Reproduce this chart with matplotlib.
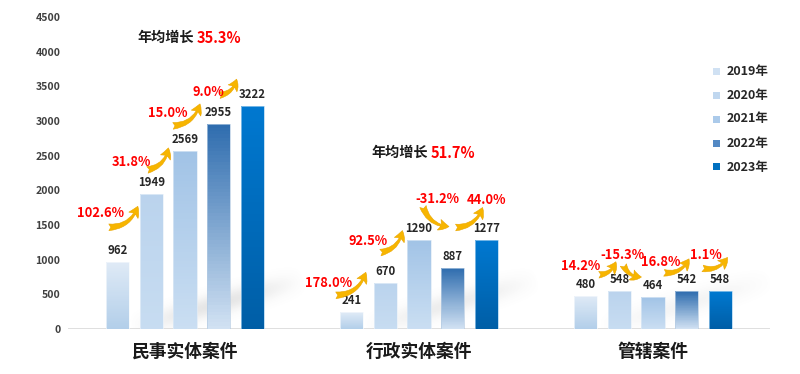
import matplotlib
matplotlib.use("Agg")
import matplotlib.pyplot as plt
import numpy as np
from matplotlib.colors import LinearSegmentedColormap, to_rgb
from matplotlib.patches import FancyArrowPatch, Rectangle

plt.rcParams["font.family"] = ["Noto Sans CJK SC", "DejaVu Sans"]

# Data
categories = ["民事实体案件", "行政实体案件", "管辖案件"]
years = ["2019年", "2020年", "2021年", "2022年", "2023年"]
values = [
    [962, 1949, 2569, 2955, 3222],
    [241, 670, 1290, 887, 1277],
    [480, 548, 464, 542, 548],
]
growth = [
    ["102.6%", "31.8%", "15.0%", "9.0%"],
    ["178.0%", "92.5%", "-31.2%", "44.0%"],
    ["14.2%", "-15.3%", "16.8%", "1.1%"],
]
cagr_labels = ["35.3%", "51.7%"]
yticks = [0, 500, 1000, 1500, 2000, 2500, 3000, 3500, 4000, 4500]

# Styles: (top colour, bottom colour) per year
BAR_COLORS = [
    ("#dfeaf6", "#b2cee9"),
    ("#bad3ed", "#c7dcf1"),
    ("#a1c3e6", "#cadef2"),
    ("#2e6cae", "#d2e2f3"),
    ("#0078d0", "#005ea6"),
]
LEGEND_COLORS = ["#d0e1f3", "#c0d7ef", "#abcaea", "#5389c4", "#0070c0"]
ARROW_COLOR = "#f7b500"
RED = "#ff0000"

BAR_STEP = 0.1435
BAR_W = 0.0985
N_SLICES = 60

# Layout of growth arrows, pixels relative to top-centre of the earlier bar:
# (tail dx, tail dy, head dx, head dy, label dx, label dy)
ARROW_LAYOUT = [
    [(-9, 35, 20, 56, -17, 49), (-4, 24, 17, 46, -20, 32),
     (-12, 25, 15, 47, -17, 38), (1, 29, 18, 45, -10, 32)],
    [(-16, 17, 14, 40, -23, 29), (-5, 30, 17, 52, -17, 42),
     (4, 33, 30, 13, 18, 41), (3, 40, 30, 60, 34, 68)],
    [(13, 21, 30, 34, -5, 30), (4, 26, 22, 14, 3, 36),
     (11, 24, 36, 38, 8, 35), (16, 23, 41, 34, 19, 36)],
]
CAGR_Y = [4200, 2540]
SHADOW_STRENGTH = [0.18, 0.13, 0.08]

fig = plt.figure(figsize=(8, 3.74), dpi=100)
ax = fig.add_axes([0.085, 0.1203, 0.8775, 0.8342])
ax.set_xlim(-0.5, 2.5)
ax.set_ylim(0, 4500)

bb = ax.get_position()
px_x = 3.0 / (bb.width * 800)
px_y = 4500 / (bb.height * 374)

# soft diagonal reflection behind each group
gx, gy = np.meshgrid(np.linspace(-60, 180, 240), np.linspace(0, 80, 80))
lx, ly = 175.0, 50.0  # streak direction in pixels, starting at (-55px, 0) from group centre
L = np.hypot(lx, ly)
sx, sy = gx + 55, gy
t = (sx * lx + sy * ly) / L**2
d = (sx * ly - sy * lx) / L
alpha_field = np.exp(-d**2 / (2 * 7.5**2)) * np.clip(np.sin(np.pi * np.clip(t, 0, 1)), 0, 1)
for g in range(len(categories)):
    rgba = np.zeros(gx.shape + (4,))
    rgba[..., :3] = 0.45
    rgba[..., 3] = alpha_field * SHADOW_STRENGTH[g]
    ax.imshow(rgba, extent=(g - 60 * px_x, g + 180 * px_x, 0, 80 * px_y), origin="lower",
              aspect="auto", interpolation="bilinear", zorder=1)

frac = (np.arange(N_SLICES) + 0.5) / N_SLICES
offsets = (np.arange(len(years)) - 2) * BAR_STEP

for g, vals in enumerate(values):
    for i, v in enumerate(vals):
        xc = g + offsets[i]
        top, bottom = BAR_COLORS[i]
        cmap = LinearSegmentedColormap.from_list("bar%d" % i, [bottom, top])
        # gradient bar built from thin stacked slices
        ax.bar(np.full(N_SLICES, xc), np.full(N_SLICES, v / N_SLICES), BAR_W,
               bottom=np.arange(N_SLICES) * v / N_SLICES, color=cmap(frac),
               linewidth=0, antialiased=False, zorder=3)
        edge = 0.35 * np.array(to_rgb(top)) + 0.65
        ax.add_patch(Rectangle((xc - BAR_W / 2, 0), BAR_W, v, fill=False,
                               edgecolor=edge, lw=0.5, zorder=4))
        ax.text(xc, v + 11.5 * px_y, str(v), ha="center", va="center",
                fontsize=8.2, fontweight="bold", color="#262626", zorder=5)

    # growth arrows
    for i, lab in enumerate(growth[g]):
        tx, ty, hx, hy, lx_, ly_ = ARROW_LAYOUT[g][i]
        xc = g + offsets[i]
        v = vals[i]
        arr = FancyArrowPatch((xc + tx * px_x, v + ty * px_y), (xc + hx * px_x, v + hy * px_y),
                              arrowstyle="fancy,head_length=0.45,head_width=0.5,tail_width=0.3",
                              mutation_scale=16, connectionstyle="arc3,rad=0.35",
                              facecolor=ARROW_COLOR, edgecolor="#eaa600", lw=0.4,
                              shrinkA=0, shrinkB=0, zorder=6)
        ax.add_patch(arr)
        ax.text(xc + lx_ * px_x, v + ly_ * px_y, lab, ha="center", va="center",
                fontsize=9.3, fontweight="bold", color=RED, zorder=7)

    ax.text(g, -23 * px_y, categories[g], ha="center", va="center", fontsize=12.8,
            fontweight="bold", color="#1a1a1a", clip_on=False)

# average annual growth labels
for g, lab in enumerate(cagr_labels):
    ax.text(g + 9 * px_x, CAGR_Y[g], "年均增长", ha="right", va="center",
            fontsize=10.2, fontweight="bold", color="#1a1a1a")
    ax.text(g + 12 * px_x, CAGR_Y[g], lab, ha="left", va="center",
            fontsize=10.5, fontweight="bold", color=RED)

ax.axhline(0, color="#d9d9d9", lw=1.2, zorder=2)
for s in ax.spines.values():
    s.set_visible(False)
ax.set_xticks([])
ax.set_yticks(yticks)
ax.set_yticklabels([str(t) for t in yticks], fontsize=7.6, fontweight="bold", color="#404040")
ax.tick_params(axis="y", length=0, pad=5.5)
ax.set_xlim(-0.5, 2.5)
ax.set_ylim(0, 4500)

# legend
for i, yr in enumerate(years):
    yc = 71 + i * 24
    fig.patches.append(Rectangle((713 / 800, 1 - (yc + 3.5) / 374), 7 / 800, 7 / 374,
                                 transform=fig.transFigure, facecolor=LEGEND_COLORS[i],
                                 edgecolor="none"))
    fig.text(727 / 800, 1 - yc / 374, yr, ha="left", va="center", fontsize=9,
             fontweight="bold", color="#262626")

fig.savefig("out.png", dpi=100)
